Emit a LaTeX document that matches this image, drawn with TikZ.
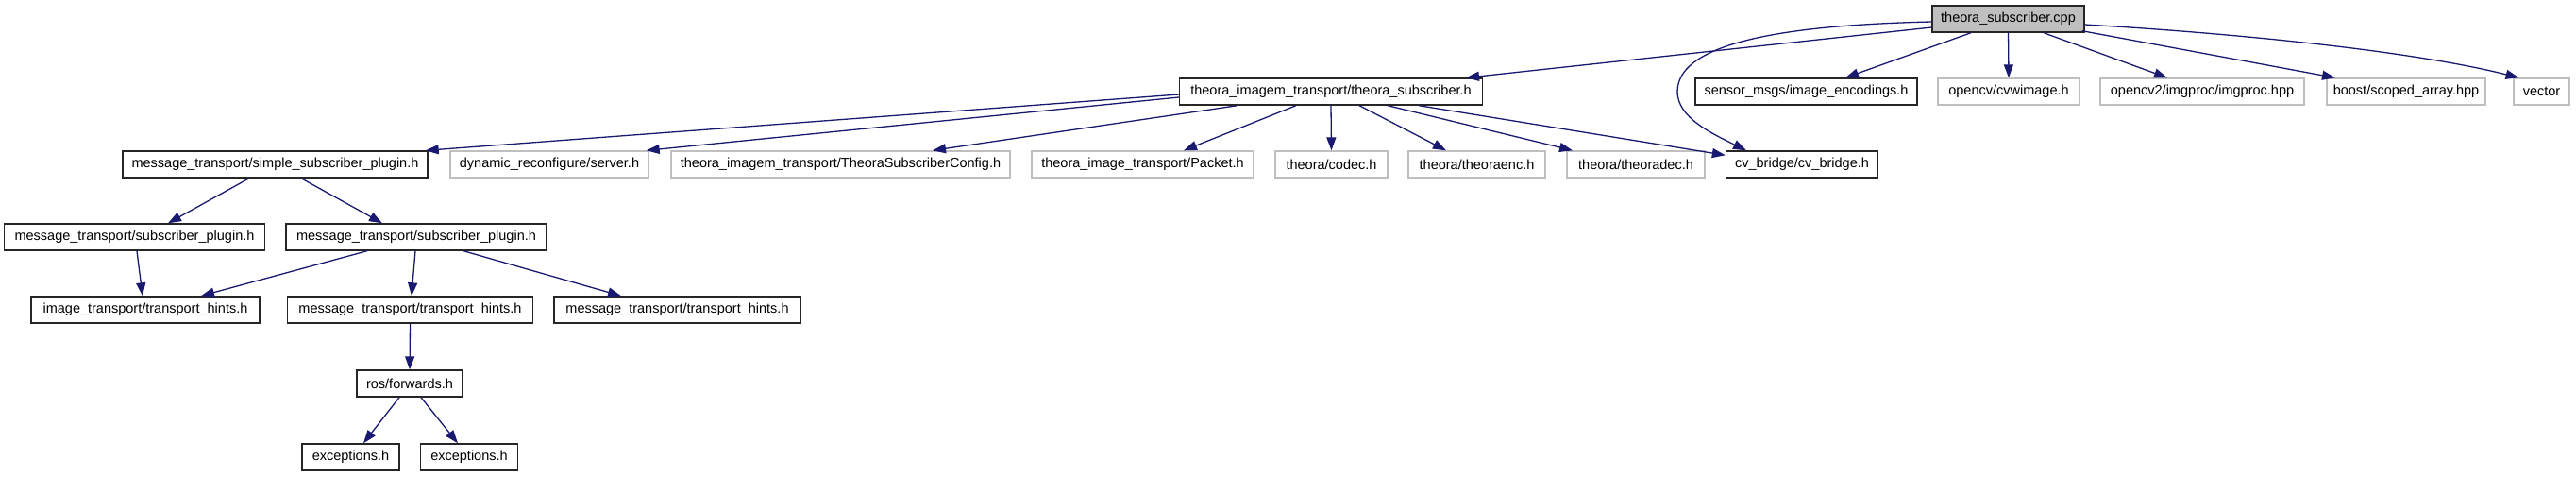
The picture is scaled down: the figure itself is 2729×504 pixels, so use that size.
\documentclass[tikz,border=0pt]{standalone}
\usepackage{fontspec}
\setmainfont{Liberation Sans}
\usetikzlibrary{arrows.meta}
\definecolor{edgeblue}{HTML}{191970}
\definecolor{missgray}{HTML}{BFBFBF}
\definecolor{rootfill}{HTML}{BFBFBF}
\tikzset{
  box/.style={draw=black!85, line width=1.4pt, rectangle, minimum height=28pt, inner xsep=6pt, inner ysep=0pt,
    font=\fontsize{14.5}{16}\selectfont, fill=white},
  missing/.style={box, draw=missgray},
  root/.style={box, fill=rootfill},
  dep/.style={draw=edgeblue, line width=1.3pt, -{Triangle[length=14pt,width=10pt]}, fill=none},
}
\begin{document}
\begin{tikzpicture}[x=1pt,y=-1pt]
\useasboundingbox (0,0) rectangle (2729,504);
% row 0
\node[root, minimum width=161pt] (cpp) at (2127.5,20) {theora\_subscriber.cpp};
% row 1
\node[box, minimum width=321pt] (A) at (1410,97) {theora\_imagem\_transport/theora\_subscriber.h};
\node[box, minimum width=235pt] (B) at (1913.5,97) {sensor\_msgs/image\_encodings.h};
\node[missing, minimum width=150pt] (C) at (2128,97) {opencv/cvwimage.h};
\node[missing, minimum width=216pt] (D) at (2333,97) {opencv2/imgproc/imgproc.hpp};
\node[missing, minimum width=168pt] (E) at (2549,97) {boost/scoped\_array.hpp};
\node[missing, minimum width=59pt] (F) at (2692.5,97) {vector};
% row 2
\node[box, minimum width=323pt] (G) at (291.5,174) {message\_transport/simple\_subscriber\_plugin.h};
\node[missing, minimum width=210pt] (H) at (582,174) {dynamic\_reconfigure/server.h};
\node[missing, minimum width=359pt] (I) at (890.5,174) {theora\_imagem\_transport/TheoraSubscriberConfig.h};
\node[missing, minimum width=235pt] (J) at (1210.5,174) {theora\_image\_transport/Packet.h};
\node[missing, minimum width=119pt] (K) at (1410.5,174) {theora/codec.h};
\node[missing, minimum width=145pt] (L) at (1564.5,174) {theora/theoraenc.h};
\node[missing, minimum width=146pt] (M) at (1733,174) {theora/theoradec.h};
\node[box, minimum width=161pt] (N) at (1909,174) {cv\_bridge/cv\_bridge.h};
% row 3
\node[box, minimum width=276pt] (O) at (142.5,251) {message\_transport/subscriber\_plugin.h};
\node[box, minimum width=276pt] (P) at (441,251) {message\_transport/subscriber\_plugin.h};
% row 4
\node[box, minimum width=242pt] (Q) at (154,328) {image\_transport/transport\_hints.h};
\node[box, minimum width=260pt] (R) at (434.5,328) {message\_transport/transport\_hints.h};
\node[box, minimum width=261pt] (S) at (717.5,328) {message\_transport/transport\_hints.h};
% row 5
\node[box, minimum width=112pt] (T) at (434,406) {ros/forwards.h};
% row 6
\node[box, minimum width=103pt] (U) at (371.5,484) {exceptions.h};
\node[box, minimum width=103pt] (V) at (497,484) {exceptions.h};

% edges from root
\draw[dep] ([yshift=-9pt]cpp.west) -- ([xshift=143pt]A.north);
\draw[dep] ([yshift=-3pt]cpp.west) .. controls (1870,27) and (1777,50) .. (1777,97)
   .. controls (1777,125) and (1815,142) .. ([xshift=-59pt]N.north);
\draw[dep] ([xshift=-39.5pt]cpp.south) -- ([xshift=41.5pt]B.north);
\draw[dep] (cpp.south) -- (C.north);
\draw[dep] ([xshift=37.5pt]cpp.south) -- ([xshift=-37pt]D.north);
\draw[dep] ([xshift=-3pt,yshift=2pt]cpp.south east) -- ([xshift=-75pt]E.north);
\draw[dep] ([yshift=-6pt]cpp.east) .. controls (2380,36) and (2560,55) .. ([xshift=-24pt]F.north);
% edges from A
\draw[dep] ([yshift=-3pt]A.west) -- ([xshift=-3pt]G.north east);
\draw[dep] ([yshift=-6pt]A.west) -- ([xshift=-3pt]H.north east);
\draw[dep] ([xshift=-99pt]A.south) -- ([xshift=97.5pt]I.north);
\draw[dep] ([xshift=-37pt]A.south) -- ([xshift=43.5pt]J.north);
\draw[dep] (A.south) -- (K.north);
\draw[dep] ([xshift=30pt]A.south) -- ([xshift=-32.5pt]L.north);
\draw[dep] ([xshift=60pt]A.south) -- ([xshift=-67pt]M.north);
\draw[dep] ([xshift=93pt]A.south) -- ([yshift=-5pt]N.north west);
% lower part
\draw[dep] ([xshift=-27.5pt]G.south) -- ([xshift=35.5pt]O.north);
\draw[dep] ([xshift=27.5pt]G.south) -- ([xshift=-36pt]P.north);
\draw[dep] ([xshift=2.5pt]O.south) -- ([xshift=-3pt]Q.north);
\draw[dep] ([xshift=-52pt]P.south) -- ([xshift=59pt]Q.north);
\draw[dep] ([xshift=-1pt]P.south) -- ([xshift=1.5pt]R.north);
\draw[dep] ([xshift=50pt]P.south) -- ([xshift=-59.5pt]S.north);
\draw[dep] (R.south) -- (T.north);
\draw[dep] ([xshift=-11pt]T.south) -- ([xshift=13.5pt]U.north);
\draw[dep] ([xshift=12pt]T.south) -- ([xshift=-12pt]V.north);
\end{tikzpicture}
\end{document}
